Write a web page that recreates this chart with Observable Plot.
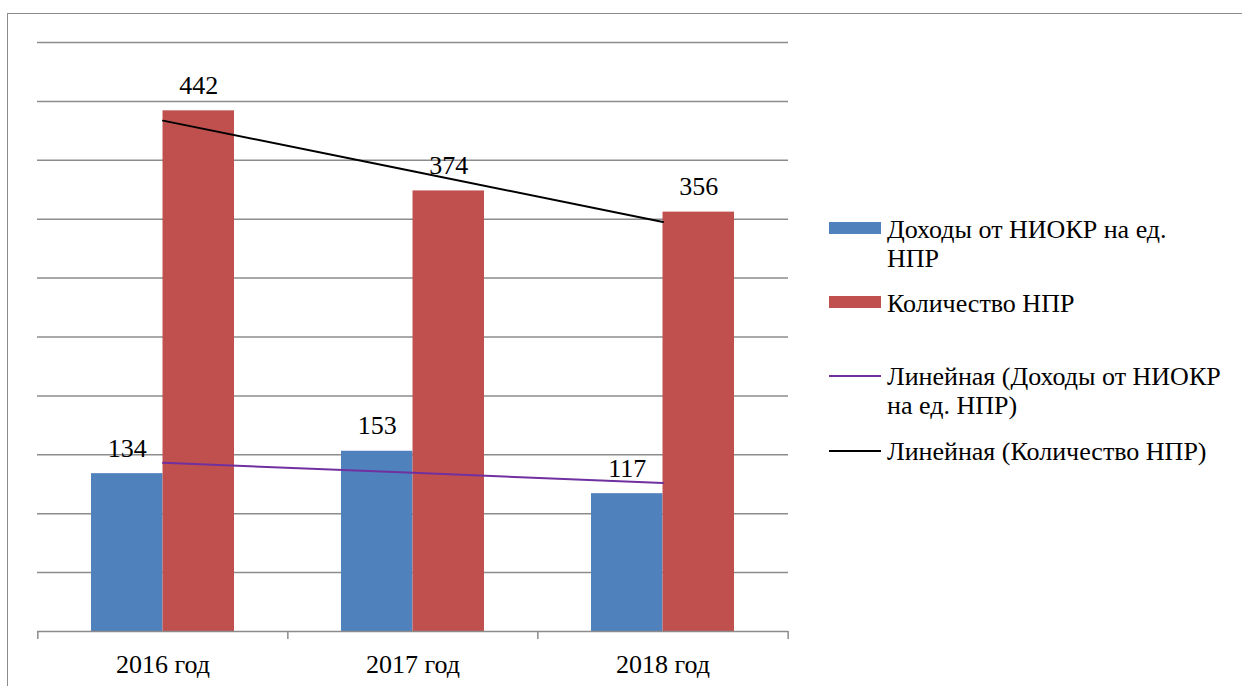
<!DOCTYPE html>
<html><head><meta charset="utf-8">
<script src="https://cdn.jsdelivr.net/npm/d3@7"></script>
<script src="https://cdn.jsdelivr.net/npm/@observablehq/plot@0.6"></script>
<style>
html,body{margin:0;padding:0;background:#fff;}
#wrap{position:relative;width:1242px;height:686px;overflow:hidden;font-family:"Liberation Serif",Tinos,"Noto Serif","Noto Serif CJK SC","Noto Serif CJK JP",FreeSerif,"DejaVu Serif",serif;}
#frame{position:absolute;left:7px;top:13px;width:1300px;height:700px;border-top:1px solid #8c8c8c;border-left:1px solid #8c8c8c;}
#plot{position:absolute;left:0;top:0;}
.item{position:absolute;left:829px;display:flex;align-items:flex-start;font-size:26px;line-height:29px;color:#000;white-space:pre;}
.sw{width:52px;flex:none;margin-right:6px;}
</style></head><body>
<div id="wrap"><div id="frame"></div><div id="plot"></div><div id="legend"></div></div>
<script>
const years = ["2016 год", "2017 год", "2018 год"];
const incomePerNpr = [134, 153, 117];
const nprCount = [442, 374, 356];
const gridTicks = [50, 100, 150, 200, 250, 300, 350, 400, 450, 500];
const seriesLabels = ["Доходы от НИОКР на ед.\nНПР", "Количество НПР"];
const trendLabels = ["Линейная (Доходы от НИОКР\nна ед. НПР)", "Линейная (Количество НПР)"];
const barColors = ["#4F81BD", "#C0504D"];
const trendColors = ["#7030A0", "#000000"];

const W = 1242, H = 686;
const pLeft = 37, pRight = 788, pTop = 42, pBottom = 631;
const padInner = 0.4286;
const step = (pRight - pLeft) / years.length;
const bandwidth = step * (1 - padInner);
const half = bandwidth / 2;

function trend(vals) {
  const xs = vals.map((_, i) => i + 1);
  const mx = d3.mean(xs), my = d3.mean(vals);
  const b = d3.sum(xs, (x, i) => (x - mx) * (vals[i] - my)) / d3.sum(xs, x => (x - mx) ** 2);
  return xs.map(x => my + b * (x - mx));
}

const series = [incomePerNpr, nprCount];
const bars = series.map((vals, s) => years.map((y, i) => ({year: y, value: vals[i], s})));
const trends = series.map((vals) => {
  const t = trend(vals);
  return years.map((y, i) => ({year: y, value: t[i]}));
});

const font = '"Liberation Serif", Tinos, "Noto Serif", "Noto Serif CJK SC", "Noto Serif CJK JP", FreeSerif, "DejaVu Serif", serif';
const plot = Plot.plot({
  width: W, height: H,
  marginLeft: pLeft, marginRight: W - pRight, marginTop: pTop, marginBottom: H - pBottom,
  style: {fontFamily: font, fontSize: "26px", background: "transparent", overflow: "visible"},
  x: {domain: years, type: "band", paddingInner: padInner, paddingOuter: padInner / 2, align: 0.5, label: null},
  y: {domain: [0, 500], axis: null},
  marks: [
    Plot.ruleY(gridTicks, {stroke: "#8c8c8c", strokeWidth: 1.5}),
    Plot.barY(bars[0], {x: "year", y: "value", fill: barColors[0], insetRight: half}),
    Plot.barY(bars[1], {x: "year", y: "value", fill: barColors[1], insetLeft: half}),
    Plot.ruleY([0], {stroke: "#8c8c8c", strokeWidth: 1.5}),
    Plot.ruleX(years, {x: d => d, dx: -step / 2, y1: 0, y2: 0, insetBottom: -8, stroke: "#8c8c8c", strokeWidth: 1.5}),
    Plot.ruleX(years.slice(-1), {x: d => d, dx: step / 2, y1: 0, y2: 0, insetBottom: -8, stroke: "#8c8c8c", strokeWidth: 1.5}),
    Plot.line(trends[0], {x: "year", y: "value", stroke: trendColors[0], strokeWidth: 2}),
    Plot.line(trends[1], {x: "year", y: "value", stroke: trendColors[1], strokeWidth: 2}),
    Plot.text(bars[0], {x: "year", y: "value", text: d => String(d.value), dx: -half / 2, dy: -17, lineAnchor: "bottom", fontSize: 26, fontFamily: font, fill: "#000"}),
    Plot.text(bars[1], {x: "year", y: "value", text: d => String(d.value), dx: half / 2, dy: -17, lineAnchor: "bottom", fontSize: 26, fontFamily: font, fill: "#000"}),
    Plot.axisX({tickSize: 0, tickPadding: 23, fontSize: 26, fontFamily: font, fill: "#000", label: null})
  ]
});
document.getElementById("plot").appendChild(plot);

const legend = document.getElementById("legend");
const items = [
  {label: seriesLabels[0], color: barColors[0], kind: "rect", y: 214.7},
  {label: seriesLabels[1], color: barColors[1], kind: "rect", y: 288.7},
  {label: trendLabels[0], color: trendColors[0], kind: "line", y: 361.7},
  {label: trendLabels[1], color: trendColors[1], kind: "line", y: 436.7}
];
for (const it of items) {
  const div = document.createElement("div");
  div.className = "item";
  div.style.top = it.y + "px";
  const sw = document.createElement("div");
  sw.className = "sw";
  sw.style.background = it.color;
  if (it.kind === "rect") { sw.style.height = "12px"; sw.style.marginTop = "7px"; }
  else { sw.style.height = "2px"; sw.style.marginTop = "13px"; }
  const tx = document.createElement("div");
  tx.textContent = it.label;
  div.appendChild(sw); div.appendChild(tx);
  legend.appendChild(div);
}
</script>
</body></html>
